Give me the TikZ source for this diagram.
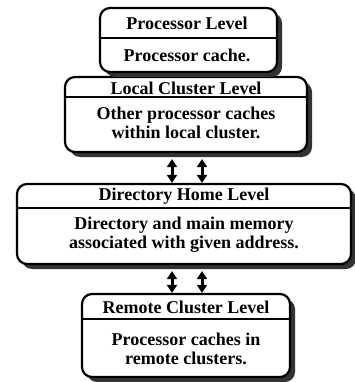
\documentclass[tikz,border=0pt]{standalone}
\usepackage{fontspec}
\setmainfont{Liberation Serif}
\usetikzlibrary{shadows,arrows.meta}
\begin{document}
\begin{tikzpicture}[x=1pt,y=-1pt,
  level/.style={draw, line width=2.2pt, rounded corners=10pt, fill=white, inner sep=0pt,
    drop shadow={shadow xshift=5pt, shadow yshift=-5pt, fill=black!80, opacity=1}},
  txt/.style={font=\fontsize{18}{19}\selectfont\bfseries, align=center, inner sep=0pt},
  divider/.style={line width=1.6pt},
  link/.style={line width=3pt, {Triangle[width=10pt,length=8pt]}-{Triangle[width=10pt,length=8pt]}}]
\useasboundingbox (0,0) rectangle (355,382);

% the four levels of the memory hierarchy
\node[level, minimum width=242pt, minimum height=75pt] (local) at (186,114.5) {};
\node[level, minimum width=177pt, minimum height=64pt] (proc) at (188.5,40) {};
\node[level, minimum width=334pt, minimum height=80pt] (dir) at (184,224) {};
\node[level, minimum width=208pt, minimum height=83pt] (remote) at (186,335.5) {};

% title bars
\draw[divider] ([yshift=-31pt]proc.north west) -- ([yshift=-31pt]proc.north east);
\draw[divider] ([yshift=-21pt]local.north west) -- ([yshift=-21pt]local.north east);
\draw[divider] ([yshift=-25pt]dir.north west) -- ([yshift=-25pt]dir.north east);
\draw[divider] ([yshift=-26pt]remote.north west) -- ([yshift=-26pt]remote.north east);

% labels
\node[txt] (procT) at (187,23.5) {Processor Level};
\node[txt] (procB) at (187,55.5) {Processor cache.};
\node[txt] (localT) at (186,88) {Local Cluster Level};
\node[txt] (localB) at (186,123) {Other processor caches\\within local cluster.};
\node[txt] (dirT) at (184,196.5) {Directory Home Level};
\node[txt] (dirB) at (184,235) {Directory and main memory\\associated with given address.};
\node[txt] (remoteT) at (186,307.5) {Remote Cluster Level};
\node[txt] (remoteB) at (186,348.5) {Processor caches in\\remote clusters.};

% two-way links between levels
\coordinate (colL) at (172,0);
\coordinate (colR) at (202,0);
\draw[link, shorten <=6pt] (local.south -| colL) -- (dir.north -| colL);
\draw[link, shorten <=6pt] (local.south -| colR) -- (dir.north -| colR);
\draw[link, shorten <=6pt] (dir.south -| colL) -- (remote.north -| colL);
\draw[link, shorten <=6pt] (dir.south -| colR) -- (remote.north -| colR);
\end{tikzpicture}
\end{document}
